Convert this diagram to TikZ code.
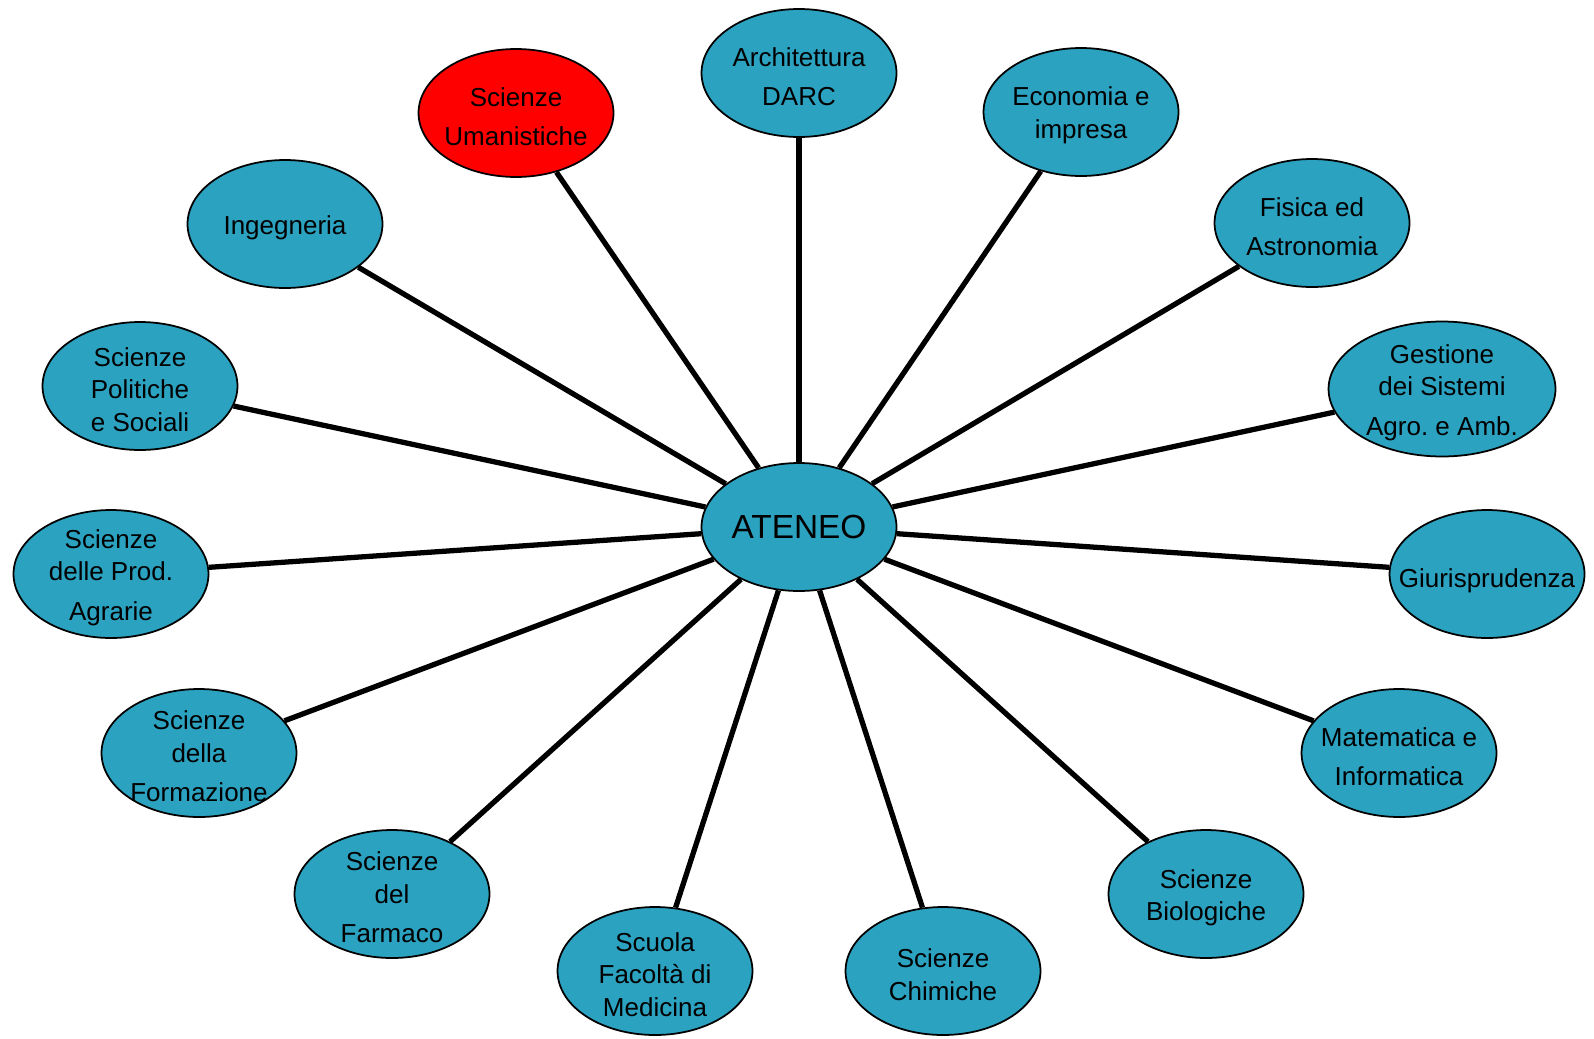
\documentclass[tikz,border=0pt]{standalone}
\usepackage{fontspec}
\setmainfont{Liberation Sans}
\usetikzlibrary{shapes.geometric}
\definecolor{deptblue}{RGB}{44,162,193}
\begin{document}
\begin{tikzpicture}[x=0.02cm, y=-0.02cm,
  dept/.style={ellipse, draw, line width=1pt, fill=deptblue, minimum width=3.9cm, minimum height=2.56cm, inner sep=0pt},
  every label/.style={align=center, yshift=-2pt, font=\fontsize{14.8}{18.5}\selectfont},
  link/.style={line width=3pt}]
\useasboundingbox (0,0) rectangle (1594,1038);
\node[dept, font=\fontsize{19}{22}\selectfont] (ateneo) at (799,527) {ATENEO};
\node[dept, label=center:{Architettura\\[4pt]DARC}] (arch) at (799,73) {};
\node[dept, fill=red, label=center:{Scienze\\[4pt]Umanistiche}] (uman) at (516,113) {};
\node[dept, label=center:{Economia e\\impresa}] (econ) at (1081,112) {};
\node[dept, label=center:{Ingegneria}] (ing) at (285,224) {};
\node[dept, label=center:{Fisica ed\\[4pt]Astronomia}] (fis) at (1312,223) {};
\node[dept, label=center:{Scienze\\Politiche\\e Sociali}] (pol) at (140,386) {};
\node[dept, minimum width=4.54cm, minimum height=2.7cm, label=center:{Gestione\\dei Sistemi\\[4pt]Agro.\ e Amb.}] (gest) at (1442,389) {};
\node[dept, label=center:{Scienze\\delle Prod.\\[4pt]Agrarie}] (agr) at (111,574) {};
\node[dept, label={[yshift=-2pt]center:Giurisprudenza}] (giur) at (1487,574) {};
\node[dept, label=center:{Scienze\\della\\[4pt]Formazione}] (form) at (199,753) {};
\node[dept, label=center:{Matematica e\\[4pt]Informatica}] (mat) at (1399,753) {};
\node[dept, label=center:{Scienze\\del\\[4pt]Farmaco}] (farm) at (392,894) {};
\node[dept, label=center:{Scienze\\Biologiche}] (biol) at (1206,894) {};
\node[dept, label=center:{Scuola\\Facoltà di\\Medicina}] (med) at (655,971) {};
\node[dept, label=center:{Scienze\\Chimiche}] (chim) at (943,971) {};
\foreach \d in {arch,uman,econ,ing,fis,pol,gest,agr,giur,form,mat,farm,biol,med,chim}
  \draw[link] (ateneo) -- (\d);
\end{tikzpicture}
\end{document}
